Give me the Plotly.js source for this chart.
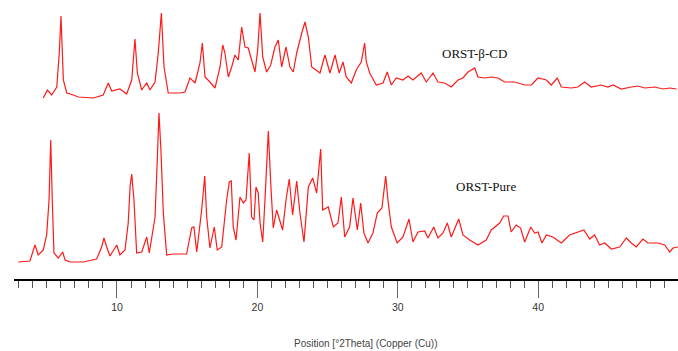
<!DOCTYPE html>
<html>
<head>
<meta charset="utf-8">
<script src="https://cdn.plot.ly/plotly-3.0.1.min.js"></script>
<style>html,body{margin:0;padding:0;background:#fff;}#chart{width:678px;height:351px;}</style>
</head>
<body>
<div id="chart"></div>
<script>
// 2-theta positions and intensities (arbitrary units)
const pureTheta = [2.97,3.80,4.16,4.39,4.75,4.99,5.16,5.28,5.39,5.51,5.82,6.13,6.30,6.65,7.60,8.55,8.91,9.07,9.27,9.50,9.98,10.21,10.57,10.80,10.93,11.05,11.21,11.40,11.76,12.12,12.30,12.71,12.87,12.99,13.13,13.30,13.54,14.01,14.96,15.32,15.48,15.68,16.03,16.25,16.39,16.62,16.93,17.14,17.46,17.81,18.00,18.14,18.28,18.48,18.76,19.00,19.19,19.42,19.59,19.76,19.90,20.06,20.19,20.38,20.54,20.78,20.95,21.13,21.37,21.80,22.04,22.27,22.51,22.80,23.03,23.32,23.63,23.94,24.22,24.51,24.65,25.05,25.41,25.74,25.98,26.22,26.57,26.81,27.12,27.36,27.59,27.88,28.23,28.54,28.87,29.14,29.30,29.54,29.96,30.37,30.80,31.08,31.44,31.92,32.15,32.56,32.86,33.22,33.53,33.81,34.34,34.64,35.12,35.71,36.30,36.66,37.26,37.54,37.85,38.08,38.44,38.75,39.04,39.47,39.75,39.99,40.27,40.58,41.05,41.65,42.24,42.71,43.26,43.67,44.02,44.38,44.74,45.21,45.80,46.28,46.63,46.99,47.46,47.82,48.53,49.01,49.37,49.60,49.96];
const pureIntensity = [17,18,34,24,29,44,79,139,79,26,21,27,19,17,17,20,32,41,32,23,34,24,29,56,92,105,79,26,27,42,26,62,119,166,129,66,24,25,25,51,52,27,69,103,62,31,52,29,32,79,97,98,52,39,82,76,79,126,62,59,92,86,56,37,79,148,96,51,69,49,79,100,64,98,66,37,92,101,86,130,69,72,52,56,82,42,52,81,49,76,46,36,46,66,71,103,79,52,36,42,60,37,47,48,41,52,41,46,56,42,60,44,39,34,39,49,56,63,63,47,54,51,37,52,46,47,36,44,42,36,44,46,49,40,44,34,36,30,32,41,36,32,40,36,36,34,27,31,32];

const cdTheta = [4.75,5.04,5.35,5.71,5.89,6.01,6.18,6.42,6.89,7.24,8.31,9.02,9.38,9.62,10.21,10.69,11.05,11.28,11.45,11.76,12.12,12.35,12.71,12.94,13.16,13.35,13.65,14.49,14.84,15.20,15.56,15.91,16.08,16.27,16.62,16.98,17.34,17.53,17.69,17.93,18.17,18.40,18.64,18.88,19.12,19.35,19.59,19.83,20.02,20.19,20.38,20.66,20.95,21.25,21.49,21.73,22.04,22.32,22.56,22.80,23.16,23.39,23.63,23.87,24.46,24.81,25.17,25.53,25.83,26.10,26.33,26.69,27.04,27.40,27.64,27.76,28.00,28.47,28.95,29.25,29.54,29.89,30.37,30.73,31.08,31.67,32.03,32.51,32.86,33.34,33.81,34.29,34.64,35.00,35.48,35.71,36.19,36.66,37.14,37.61,38.33,39.04,39.51,39.99,40.58,40.93,41.36,41.65,42.36,42.83,43.31,43.78,44.49,44.97,45.33,45.92,46.63,47.11,47.59,48.30,48.89,49.37,49.86];
const cdIntensity = [16,24,19,27,61,98,34,21,19,17,16,19,31,23,25,20,34,75,41,24,31,24,32,61,101,47,21,21,22,36,31,51,71,37,32,26,47,69,61,37,47,59,54,87,67,66,54,42,64,101,57,42,49,67,74,47,67,47,42,61,81,92,77,47,41,59,41,59,41,52,37,31,44,52,71,52,41,29,31,42,29,36,34,38,34,41,32,41,32,31,27,34,36,42,46,37,36,37,36,32,32,29,29,36,34,29,36,27,26,27,32,27,29,27,29,25,27,28,26,27,25,26,25];

const cdOffset = 165; // vertical stacking offset of the upper pattern
const xTicks = [10, 20, 30, 40];
const seriesNames = ['ORST-Pure', 'ORST-β-CD'];

const lineStyle = {color: '#ff1a1a', width: 1.2};
const traces = [
  {x: pureTheta, y: pureIntensity, type: 'scatter', mode: 'lines', name: seriesNames[0], line: lineStyle, hoverinfo: 'x+y'},
  {x: cdTheta, y: cdIntensity.map(v => v + cdOffset), type: 'scatter', mode: 'lines', name: seriesNames[1], line: lineStyle, hoverinfo: 'x+y'}
];

const layout = {
  width: 678, height: 351,
  margin: {l: 14, r: 0, t: 0, b: 72, pad: 0},
  paper_bgcolor: '#ffffff', plot_bgcolor: '#ffffff',
  showlegend: false,
  xaxis: {
    range: [2.664, 49.96],
    showgrid: false, zeroline: false,
    showline: true, linecolor: '#000', linewidth: 2,
    ticks: 'outside', ticklen: 17, tickwidth: 1, tickcolor: '#666',
    tickmode: 'array', tickvals: xTicks, ticktext: xTicks.map(String),
    tickfont: {family: 'Liberation Sans, Arial, sans-serif', size: 10.5, color: '#333'},
    minor: {dtick: 1, tick0: 0, ticks: 'outside', ticklen: 7, tickwidth: 1, tickcolor: '#555', showgrid: false},
    fixedrange: true
  },
  yaxis: {
    range: [0, 279], visible: false, showgrid: false, zeroline: false, fixedrange: true
  },
  annotations: [
    {xref: 'paper', yref: 'paper', x: (440 - 14) / 664, y: 1 - 53 / 279, xanchor: 'left', yanchor: 'middle', showarrow: false,
     text: seriesNames[1], font: {family: 'Liberation Serif, Times New Roman, serif', size: 13, color: '#111'}},
    {xref: 'paper', yref: 'paper', x: (454 - 14) / 664, y: 1 - 186 / 279, xanchor: 'left', yanchor: 'middle', showarrow: false,
     text: seriesNames[0], font: {family: 'Liberation Serif, Times New Roman, serif', size: 13, color: '#111'}},
    {xref: 'paper', yref: 'paper', x: (366 - 14) / 664, y: -(343 - 279) / 279, xanchor: 'center', yanchor: 'middle', showarrow: false,
     text: 'Position [°2Theta] (Copper (Cu))', font: {family: 'Liberation Sans, Arial, sans-serif', size: 10, color: '#444'}}
  ]
};

Plotly.newPlot('chart', traces, layout, {displayModeBar: false, staticPlot: true});
</script>
</body>
</html>
